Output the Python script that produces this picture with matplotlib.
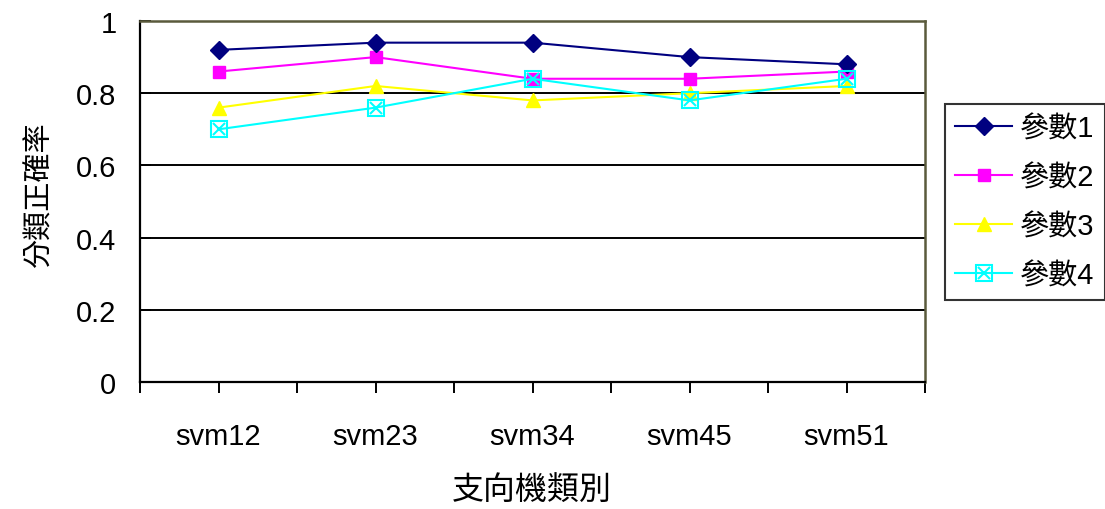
import numpy as np
import matplotlib
matplotlib.use('Agg')
import matplotlib.pyplot as plt
from matplotlib.ticker import FixedLocator

plt.rcParams['font.family'] = ['Liberation Sans', 'Noto Sans CJK TC', 'DejaVu Sans']

categories = ['svm12', 'svm23', 'svm34', 'svm45', 'svm51']
param1 = [0.92, 0.94, 0.94, 0.90, 0.88]
param2 = [0.86, 0.90, 0.84, 0.84, 0.86]
param3 = [0.76, 0.82, 0.78, 0.80, 0.82]
param4 = [0.70, 0.76, 0.84, 0.78, 0.84]
names = ['參數1', '參數2', '參數3', '參數4']
y_ticks = [0, 0.2, 0.4, 0.6, 0.8, 1]
y_ticklabels = ['0', '0.2', '0.4', '0.6', '0.8', '1']

fig = plt.figure(figsize=(11.05, 5.10), dpi=100)
ax = fig.add_axes([140 / 1105, 1 - 383 / 510, 785 / 1105, 361 / 510])

x = np.arange(len(categories))

# horizontal gridlines
for yv in y_ticks[1:-1]:
    ax.axhline(yv, color='black', lw=1.4, zorder=1)

h1, = ax.plot(x, param1, color='#000080', lw=1.5, marker='D', ms=9,
              mfc='#000080', mec='#000080', zorder=5)
h2, = ax.plot(x, param2, color='#ff00ff', lw=1.5, marker='s', ms=8.5,
              mfc='#ff00ff', mec='#ff00ff', zorder=4)
h3, = ax.plot(x, param3, color='#ffff00', lw=1.5, marker='^', ms=10,
              mfc='#ffff00', mec='#ffff00', zorder=3)
h4, = ax.plot(x, param4, color='#00ffff', lw=1.5, marker='s', ms=11,
              mfc='none', mec='#00ffff', mew=1.5, zorder=6)
h4x, = ax.plot(x, param4, ls='none', marker='x', ms=9,
               mec='#00ffff', mew=1.5, zorder=6)

ax.set_xlim(-0.5, len(categories) - 0.5)
ax.set_ylim(0, 1)

ax.set_xticks(x)
ax.set_xticklabels(categories, fontsize=21)
ax.xaxis.set_minor_locator(FixedLocator(np.arange(-0.5, len(categories), 1.0)))
ax.tick_params(axis='x', which='both', direction='out', length=8, width=1.4,
               color='black')
ax.tick_params(axis='x', which='major', pad=21)

ax.set_yticks(y_ticks)
ax.set_yticklabels(y_ticklabels, fontsize=21)
ax.tick_params(axis='y', direction='in', length=8, width=1.4, pad=17)

for side in ['left', 'bottom']:
    ax.spines[side].set_color('black')
    ax.spines[side].set_linewidth(1.6)
for side in ['top', 'right']:
    ax.spines[side].set_color('#5a5a3c')
    ax.spines[side].set_linewidth(1.8)

fig.text(532 / 1105, 1 - 492 / 510, '支向機類別', fontsize=23,
         ha='center', va='center')
fig.text(40 / 1105, 1 - 195 / 510, '分類正確率', fontsize=21,
         ha='center', va='center', rotation=90)

leg = fig.legend([h1, h2, h3, (h4, h4x)], names,
                 loc='center left', bbox_to_anchor=(945 / 1105, 1 - 203 / 510),
                 fontsize=21, frameon=True, fancybox=False, edgecolor='black',
                 handlelength=1.95, handletextpad=0.28, labelspacing=0.72,
                 borderpad=0.35, borderaxespad=0)
leg.get_frame().set_linewidth(1.5)

plt.savefig('out.png', dpi=100)
